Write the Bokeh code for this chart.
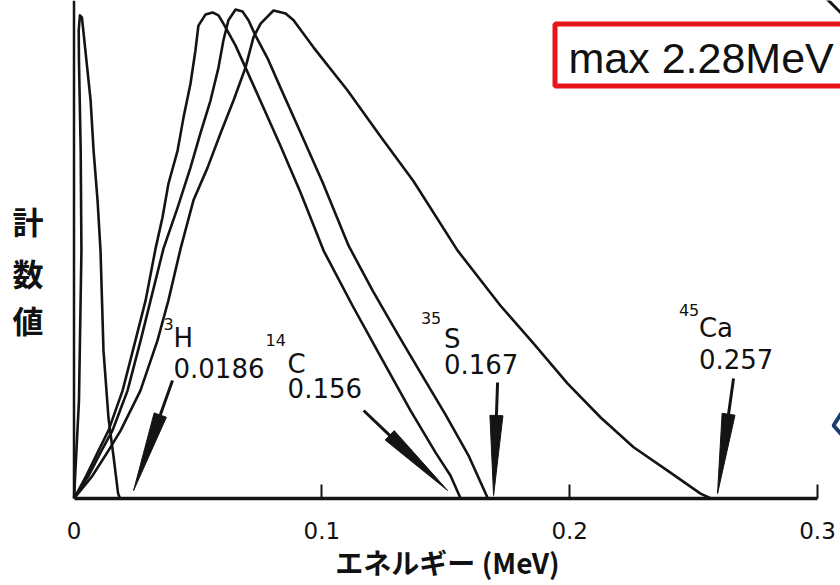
import numpy as np
from bokeh.plotting import figure
from bokeh.models import Range1d, FixedTicker, Span, Label, BoxAnnotation
from bokeh.embed import file_html
from bokeh.core.properties import value
from bokeh.resources import INLINE

# ---------------- data ----------------
mass_numbers = ["3", "14", "35", "45"]
symbols = ["H", "C", "S", "Ca"]
e_max = [0.0186, 0.156, 0.167, 0.257]
e_max_labels = ["0.0186", "0.156", "0.167", "0.257"]

h3_energy = [0.0, 0.0020, 0.0030, 0.0027, 0.0020, 0.0019, 0.0024, 0.0032, 0.0046,
             0.0067, 0.0079, 0.0095, 0.0107, 0.0119, 0.0139, 0.0160, 0.0178, 0.0186]
h3_counts = [0, 20.0, 50.8, 71.3, 89.8, 95.9, 99.0, 98.6, 91.8,
             81.6, 71.3, 61.1, 50.8, 30.3, 16.6, 8.4, 1.0, 0]

c14_energy = [0.0, 0.0050, 0.0099, 0.0139, 0.0196, 0.0248, 0.0289, 0.0329, 0.0357,
              0.0381, 0.0418, 0.0442, 0.0470, 0.0490, 0.0502, 0.0531, 0.0559,
              0.0583, 0.0603, 0.0652, 0.0692, 0.0761, 0.0833, 0.0914, 0.1007,
              0.1124, 0.1241, 0.1358, 0.1459, 0.1519, 0.156]
c14_counts = [0, 4.7, 9.8, 13.9, 22.1, 32.4, 40.6, 51.2, 57.6,
              64.5, 71.3, 78.1, 85.0, 91.8, 96.9, 99.2, 99.6,
              99.0, 97.3, 92.8, 88.3, 80.5, 72.3, 62.7, 50.8,
              39.5, 28.7, 18.0, 9.4, 4.7, 0]

s35_energy = [0.0, 0.0059, 0.0111, 0.0155, 0.0216, 0.0269, 0.0309, 0.0361, 0.0418,
              0.0470, 0.0510, 0.0551, 0.0583, 0.0603, 0.0623, 0.0652,
              0.0680, 0.0704, 0.0732, 0.0781, 0.0833, 0.0914, 0.1003, 0.1108,
              0.1205, 0.1305, 0.1398, 0.1499, 0.1592, 0.167]
s35_counts = [0, 4.7, 9.8, 13.9, 22.1, 32.4, 40.6, 51.2, 59.6,
              67.8, 74.8, 81.6, 88.3, 93.9, 98.0, 100.2,
              99.8, 98.0, 94.9, 90.2, 84.2, 75.0, 64.8, 51.8,
              42.6, 33.8, 25.8, 17.2, 8.8, 0]

ca45_energy = [0.0, 0.0075, 0.0139, 0.0188, 0.0268, 0.0337, 0.0381, 0.0430, 0.0482,
               0.0539, 0.0591, 0.0644, 0.0692, 0.0724, 0.0753, 0.0805, 0.0854,
               0.0886, 0.0967, 0.1104, 0.1237, 0.1370, 0.1548, 0.1721, 0.1854,
               0.1991, 0.2125, 0.2258, 0.2395, 0.2528, 0.257]
ca45_counts = [0, 4.7, 9.8, 13.9, 22.1, 32.4, 40.6, 51.2, 61.1,
               67.8, 74.8, 81.6, 88.3, 94.5, 97.3, 100.0, 99.4,
               98.0, 92.4, 83.6, 74.2, 65.0, 50.8, 39.5, 31.8,
               23.6, 16.6, 10.5, 5.7, 1.0, 0]

x_ticks = [0, 0.1, 0.2, 0.3]
x_tick_labels = ["0", "0.1", "0.2", "0.3"]
x_title = "エネルギー (MeV)"
y_title_chars = ["計", "数", "値"]
note_text = "max 2.28MeV"

# ---------------- layout (canvas pixels) ----------------
W, H = 840, 585
FRAME_L = 54              # frame left edge; frame centre = centre of x title
FRAME_H = 498
X0 = 73.5                 # canvas px of x = 0
PPX = 743.5 / 0.3         # px per MeV
PPY = 4.88                # px per count unit


def dx(cx):
    return (cx - X0) / PPX


def dy(cy):
    return (FRAME_H - cy) / PPY


p = figure(width=W, height=H, x_range=Range1d(dx(FRAME_L), dx(W)),
           y_range=Range1d(0, dy(0)), toolbar_location=None, output_backend="svg",
           min_border=0)
p.min_border_bottom = H - FRAME_H
p.min_border_left = FRAME_L
p.min_border_right = 0
p.min_border_top = 0
p.outline_line_color = None
p.xgrid.visible = False
p.ygrid.visible = False
p.background_fill_color = "white"
p.border_fill_color = "white"

INK = "#141414"

# y-axis line at E = 0
p.add_layout(Span(location=x_ticks[0], dimension="height", line_color=INK, line_width=2.5))

# spectra
for xs, ys in [(h3_energy, h3_counts), (c14_energy, c14_counts),
               (s35_energy, s35_counts), (ca45_energy, ca45_counts)]:
    p.line(xs, ys, line_color=INK, line_width=2.6, line_join="round")

# x axis
ax = p.xaxis[0]
ax.bounds = (x_ticks[0], x_ticks[-1])
ax.ticker = FixedTicker(ticks=x_ticks)
ax.major_label_overrides = {float(t): s for t, s in zip(x_ticks, x_tick_labels)}
ax.axis_line_color = INK
ax.axis_line_width = 3.5
ax.major_tick_in = 14
ax.major_tick_out = 0
ax.major_tick_line_width = 2
ax.major_tick_line_color = INK
ax.minor_tick_line_color = None
ax.major_label_text_font = "DejaVu Sans"
ax.major_label_text_font_size = "23px"
ax.major_label_text_color = "#111111"
ax.major_label_standoff = 23
ax.axis_label = x_title
ax.axis_label_text_font = "Noto Sans CJK JP"
ax.axis_label_text_font_size = "28px"
ax.axis_label_text_font_style = "bold"
ax.axis_label_text_color = "#111111"
ax.axis_label_standoff = 0

# y title: three stacked characters shown as the left axis labels
yc = [220, 272, 319]
yax = p.yaxis[0]
yax.ticker = FixedTicker(ticks=[dy(c) for c in yc])
yax.major_label_overrides = {dy(c): ch for c, ch in zip(yc, y_title_chars)}
yax.major_label_orientation = "horizontal"
yax.axis_line_color = None
yax.major_tick_line_color = None
yax.minor_tick_line_color = None
yax.major_tick_in = 0
yax.major_tick_out = 0
yax.major_label_standoff = 11
yax.major_label_text_font = "Noto Sans CJK JP"
yax.major_label_text_font_size = "31px"
yax.major_label_text_font_style = "bold"
yax.major_label_text_color = "#111111"

# arrows and isotope labels (offsets in px relative to the end-point on the axis)
tip_off = [(13.5, 8), (-13, 8), (5.7, 3), (6.6, 5)]
tail_off = [(52.4, 118), (-97, 88), (9.7, 116), (22.6, 120)]
sup_off = [(43.4, 169), (-195, 153), (-67, 175), (-32, 183)]
sym_off = [(53.4, 151), (-173, 125), (-44, 150), (-12, 161)]
val_off = [(53.4, 121), (-173, 101), (-44, 125), (-12, 130)]

HEAD_L, HEAD_W = 80, 13
sx0, sy0, sx1, sy1, hx, hy = [], [], [], [], [], []
for i, e in enumerate(e_max):
    ex = X0 + e * PPX
    tip = np.array([ex + tip_off[i][0], FRAME_H - tip_off[i][1]])
    tail = np.array([ex + tail_off[i][0], FRAME_H - tail_off[i][1]])
    u = (tip - tail) / np.linalg.norm(tip - tail)
    n = np.array([-u[1], u[0]])
    base = tip - HEAD_L * u
    c1 = base + n * HEAD_W / 2
    c2 = base - n * HEAD_W / 2
    sx0.append(dx(tail[0])); sy0.append(dy(tail[1]))
    sx1.append(dx(base[0])); sy1.append(dy(base[1]))
    hx.append([dx(tip[0]), dx(c1[0]), dx(c2[0])])
    hy.append([dy(tip[1]), dy(c1[1]), dy(c2[1])])

p.segment(sx0, sy0, sx1, sy1, line_color=INK, line_width=3)
p.patches(hx, hy, fill_color=INK, line_color=INK, line_width=1)


def place(offs, size):
    xs, ys = [], []
    for i, e in enumerate(e_max):
        ex = X0 + e * PPX
        xs.append(dx(ex + offs[i][0]))
        # offsets give the baseline; convert to the middle of the text
        ys.append(dy(FRAME_H - offs[i][1] - 0.36 * size))
    return xs, ys


for offs, txt, size in [(sup_off, mass_numbers, 16), (sym_off, symbols, 26),
                        (val_off, e_max_labels, 26)]:
    xs, ys = place(offs, size)
    p.text(x=xs, y=ys, text=txt, text_font=value("DejaVu Sans"), text_font_size=f"{size}px",
           text_align="left", text_baseline="middle", text_color="#111111")

# red boxed note, its right side cut off at the edge of the slide
p.add_layout(BoxAnnotation(left=dx(554.5), right=dx(W + 40), top=dy(23.5), bottom=dy(85.5),
                           fill_color="white", fill_alpha=1.0,
                           line_color="#e8141b", line_width=5, line_alpha=1.0))
p.add_layout(Label(x=dx(568), y=dy(57), text=note_text, text_font="Liberation Sans",
                   text_font_size="43px", text_color="#111111", text_baseline="middle"))

# fragments of neighbouring slide elements at the edges
p.line([dx(826), dx(842)], [dy(-2), dy(14)], line_color=INK, line_width=3)
p.line([dx(842), dx(833), dx(842)], [dy(411), dy(425), dy(435)], line_color="#1d3f70",
       line_width=4)

open("out.html", "w").write(file_html(p, INLINE))
